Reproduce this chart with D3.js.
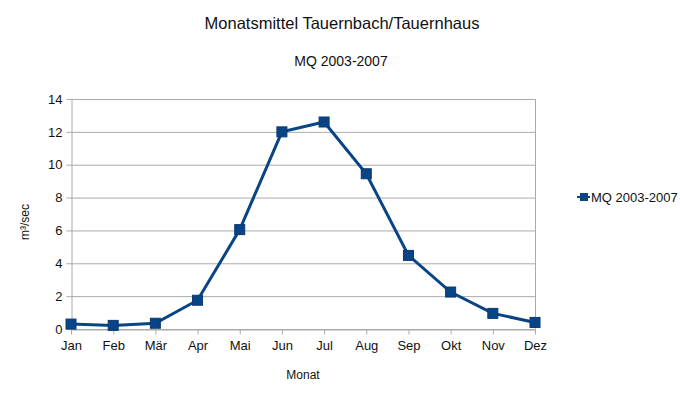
<!DOCTYPE html>
<html>
<head>
<meta charset="utf-8">
<script src="https://cdn.jsdelivr.net/npm/d3@7"></script>
<style>
  body { margin: 0; background: #fff; }
  text { font-family: "Liberation Sans", Arial, sans-serif; fill: #111; }
</style>
</head>
<body>
<script>
// Chart size
var w = 680;
var h = 399;

// Data
var months = ["Jan", "Feb", "Mär", "Apr", "Mai", "Jun", "Jul", "Aug", "Sep", "Okt", "Nov", "Dez"];
var mq = [0.30, 0.22, 0.35, 1.75, 6.05, 12.0, 12.6, 9.45, 4.48, 2.25, 0.95, 0.40];
var yTicks = [0, 2, 4, 6, 8, 10, 12, 14];
var seriesName = "MQ 2003-2007";

// plot area (avoid "top" - clashes with window.top)
var plotLeft = 71, plotRight = 535, plotTop = 99, plotBottom = 329;
var lineColor = "#084486";

var xScale = d3.scalePoint()
               .domain(months)
               .range([plotLeft, plotRight]);

var yScale = d3.scaleLinear()
               .domain([0, 14])
               .range([plotBottom, plotTop]);

var svg = d3.select("body")
            .append("svg")
            .attr("width", w)
            .attr("height", h);

// Grid lines
svg.append("g")
   .selectAll("line")
   .data(yTicks)
   .enter()
   .append("line")
   .attr("x1", plotLeft)
   .attr("x2", plotRight)
   .attr("y1", function(d) { return yScale(d) + 0.5; })
   .attr("y2", function(d) { return yScale(d) + 0.5; })
   .attr("stroke", "#aaaaaa");

// right border of plot area
svg.append("line")
   .attr("x1", plotRight + 0.5).attr("x2", plotRight + 0.5)
   .attr("y1", plotTop).attr("y2", plotBottom)
   .attr("stroke", "#aaaaaa");

// Axes
var xAxis = d3.axisBottom(xScale).tickSizeInner(5).tickSizeOuter(0).tickPadding(6);
var gx = svg.append("g")
   .attr("transform", "translate(0," + (plotBottom + 0.5) + ")")
   .call(xAxis);

var yAxis = d3.axisLeft(yScale).tickValues(yTicks).tickSizeInner(5).tickSizeOuter(0).tickPadding(4);
var gy = svg.append("g")
   .attr("transform", "translate(" + (plotLeft + 0.5) + ",0)")
   .call(yAxis);

[gx, gy].forEach(function(g) {
  g.selectAll("path, line").attr("stroke", "#aaaaaa");
  g.selectAll("text").attr("font-size", "13px").attr("fill", "#111")
   .attr("font-family", "Liberation Sans, Arial, sans-serif");
});

// Line
var line = d3.line()
             .x(function(d, i) { return xScale(months[i]); })
             .y(function(d) { return yScale(d); });

svg.append("path")
   .datum(mq)
   .attr("d", line)
   .attr("fill", "none")
   .attr("stroke", lineColor)
   .attr("stroke-width", 3);

// Square markers
svg.selectAll(".pt")
   .data(mq)
   .enter()
   .append("rect")
   .attr("class", "pt")
   .attr("x", function(d, i) { return xScale(months[i]) - 5; })
   .attr("y", function(d) { return yScale(d) - 5; })
   .attr("width", 10)
   .attr("height", 10)
   .attr("fill", lineColor)
   .attr("stroke", "#0a3a70")
   .attr("stroke-width", 1);

// Titles
svg.append("text")
   .attr("x", 342).attr("y", 29)
   .attr("text-anchor", "middle")
   .attr("font-size", "16.5px")
   .text("Monatsmittel Tauernbach/Tauernhaus");

svg.append("text")
   .attr("x", 341).attr("y", 66)
   .attr("text-anchor", "middle")
   .attr("font-size", "14px")
   .text(seriesName);

// Axis titles
svg.append("text")
   .attr("transform", "rotate(-90)")
   .attr("x", -222).attr("y", 29)
   .attr("text-anchor", "middle")
   .attr("font-size", "12px")
   .text("m³/sec");

svg.append("text")
   .attr("x", 303).attr("y", 379)
   .attr("text-anchor", "middle")
   .attr("font-size", "12px")
   .text("Monat");

// Legend
svg.append("line")
   .attr("x1", 577).attr("x2", 590)
   .attr("y1", 197).attr("y2", 197)
   .attr("stroke", lineColor).attr("stroke-width", 2);
svg.append("rect")
   .attr("x", 580).attr("y", 193)
   .attr("width", 8).attr("height", 8)
   .attr("fill", lineColor);
svg.append("text")
   .attr("x", 591).attr("y", 202)
   .attr("font-size", "13px")
   .text(seriesName);
</script>
</body>
</html>
